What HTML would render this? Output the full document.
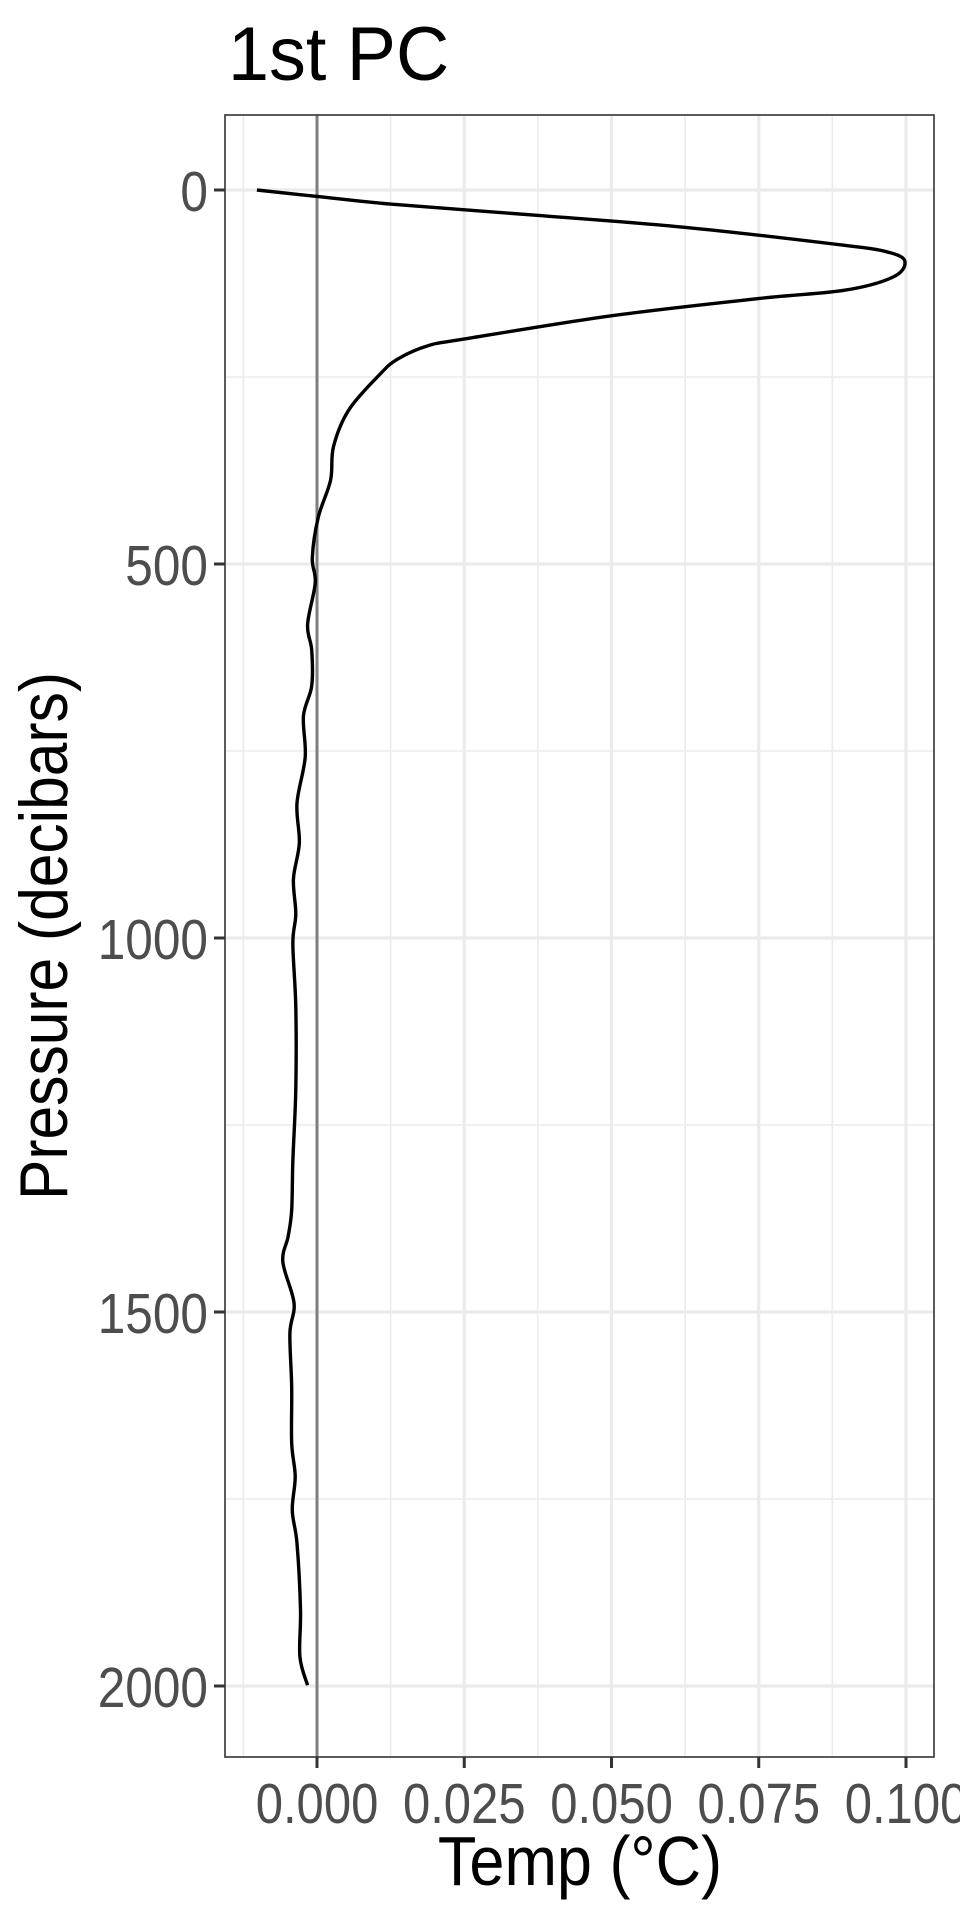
<!DOCTYPE html>
<html><head><meta charset="utf-8"><style>
html,body{margin:0;padding:0;background:#fff}
svg{display:block;font-family:"Liberation Sans",sans-serif}
</style></head><body>
<svg id="chart" width="960" height="1920" viewBox="0 0 960 1920">
<rect width="960" height="1920" fill="#fff"/>
<text transform="translate(228,80) scale(0.97,1)" font-size="76" fill="#000">1st PC</text>
<g id="grid"></g>
<g id="curve"></g>
<rect x="225" y="115" width="709" height="1642" fill="none" stroke="#333" stroke-width="1.6"/>
<g id="axes"></g>
<text transform="translate(580,1885) scale(0.9,1)" font-size="70" text-anchor="middle" fill="#000">Temp (°C)</text>
<text transform="translate(67,936) rotate(-90) scale(0.89,1)" font-size="68" text-anchor="middle" fill="#000">Pressure (decibars)</text>
</svg>
<script>
const pressure = [0,8.6,19,34,50,74,83,95,116,134,145,168,199,208,226,247,294,343,388,438,492,525,581,615,663,703,758,820,873,921,968,1007,1092,1202,1298,1364,1399,1433,1488,1528,1600,1675,1720,1765,1809,1898,1961,1999];
const temp = [-0.0102,0,0.0127,0.0376,0.0626,0.0896,0.0969,0.0998,0.0979,0.0896,0.0751,0.0501,0.0252,0.0189,0.0137,0.0106,0.0054,0.0028,0.0023,0.0002,-0.0008,-0.0003,-0.0016,-0.0009,-0.0009,-0.0023,-0.002,-0.0034,-0.003,-0.004,-0.0036,-0.0041,-0.0036,-0.0036,-0.0041,-0.0043,-0.0049,-0.0058,-0.0039,-0.0046,-0.0043,-0.0043,-0.0037,-0.0042,-0.0034,-0.0028,-0.0029,-0.0016];
const xTicks = [0,0.025,0.05,0.075,0.1];
const xTickLabels = ["0.000","0.025","0.050","0.075","0.100"];
const yTicks = [0,500,1000,1500,2000];
const yTickLabels = ["0","500","1000","1500","2000"];
const xMinor = [-0.0125,0.0125,0.0375,0.0625,0.0875];
const yMinor = [250,750,1250,1750];

const NS="http://www.w3.org/2000/svg";
const X0=225,X1=934,Y0=115,Y1=1757;
function sx(v){return 317+v*5890;}
function sy(p){return 190+p*0.748;}
function mk(tag,attrs,parent){const e=document.createElementNS(NS,tag);for(const k in attrs)e.setAttribute(k,attrs[k]);parent.appendChild(e);return e;}
const grid=document.getElementById('grid'),axes=document.getElementById('axes'),cv=document.getElementById('curve');
mk('rect',{x:X0,y:Y0,width:X1-X0,height:Y1-Y0,fill:'#fff'},grid);
xMinor.forEach(v=>{const l=mk('line',{x1:sx(v),x2:sx(v),y1:Y0,y2:Y1,stroke:'#ebebeb','stroke-width':1.6},grid);

});
yMinor.forEach(v=>{const l=mk('line',{x1:X0,x2:X1,y1:sy(v),y2:sy(v),stroke:'#ebebeb','stroke-width':1.6},grid);

});
xTicks.forEach((v,i)=>{const l=mk('line',{x1:sx(v),x2:sx(v),y1:Y0,y2:Y1,stroke:'#ebebeb','stroke-width':3.2},grid);


const t=mk('line',{x1:sx(v),x2:sx(v),y1:Y1,y2:Y1+11,stroke:'#333','stroke-width':3},axes);


const tx=mk('text',{transform:'translate('+sx(v)+',1823) scale(0.86,1)','font-size':57,'text-anchor':'middle',fill:'#4d4d4d'},axes);tx.textContent=xTickLabels[i];

});
yTicks.forEach((v,i)=>{const l=mk('line',{x1:X0,x2:X1,y1:sy(v),y2:sy(v),stroke:'#ebebeb','stroke-width':3.2},grid);


const t=mk('line',{x1:X0-11,x2:X0,y1:sy(v),y2:sy(v),stroke:'#333','stroke-width':3},axes);


const tx=mk('text',{transform:'translate(208,'+(sy(v)+21)+') scale(0.87,1)','font-size':57,'text-anchor':'end',fill:'#4d4d4d'},axes);tx.textContent=yTickLabels[i];

});
const zl=mk('line',{x1:sx(0),x2:sx(0),y1:Y0,y2:Y1,stroke:'#7f7f7f','stroke-width':3},cv);


const pts=pressure.map((p,i)=>[sx(temp[i]),sy(p)]);
let d='M'+pts[0][0]+','+pts[0][1];
for(let i=0;i<pts.length-1;i++){const p0=pts[Math.max(0,i-1)],p1=pts[i],p2=pts[i+1],p3=pts[Math.min(pts.length-1,i+2)];
d+=' C'+(p1[0]+(p2[0]-p0[0])/6)+','+(p1[1]+(p2[1]-p0[1])/6)+' '+(p2[0]-(p3[0]-p1[0])/6)+','+(p2[1]-(p3[1]-p1[1])/6)+' '+p2[0]+','+p2[1];}
const path=mk('path',{d:d,fill:'none',stroke:'#000','stroke-width':3.4,'stroke-linejoin':'round'},cv);


</script>
</body></html>
